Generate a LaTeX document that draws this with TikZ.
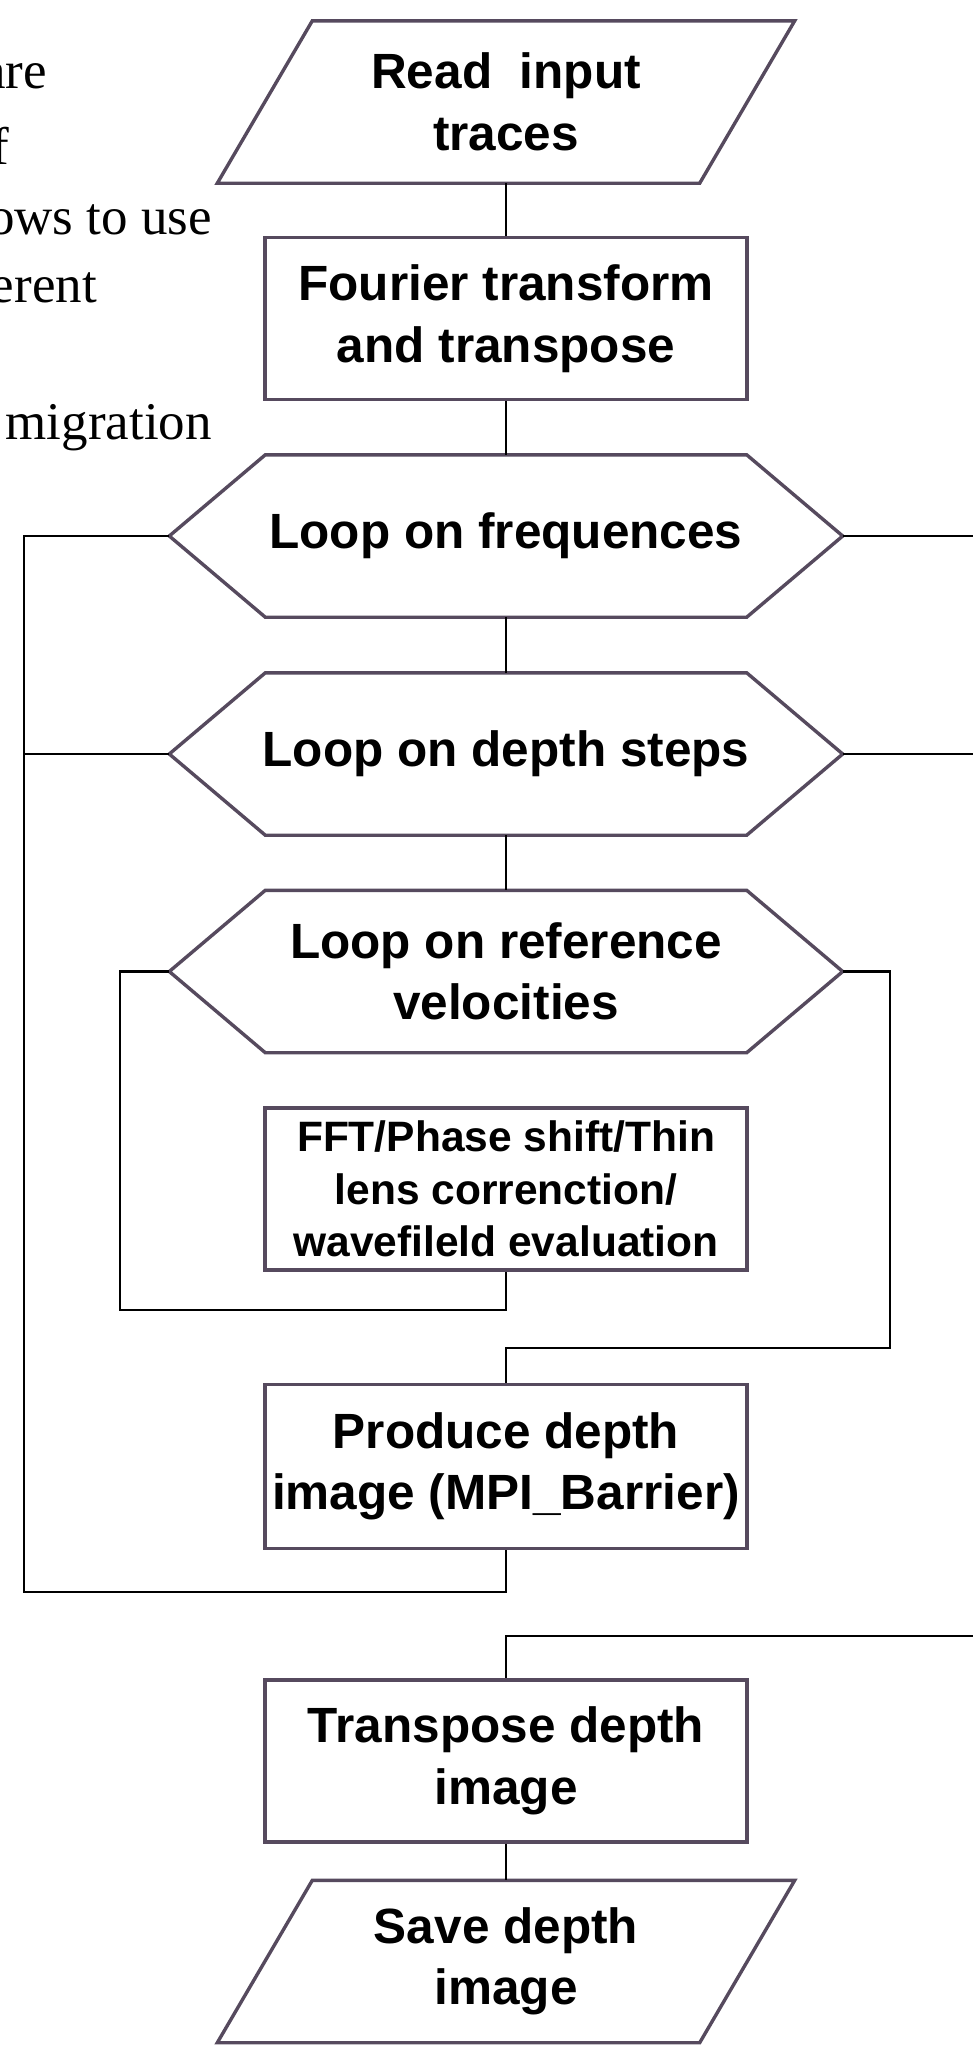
\documentclass[tikz,border=0pt]{standalone}
\usepackage{fontspec}
\setmainfont{Liberation Sans}
\newfontfamily\serifpart{Liberation Serif}
\usetikzlibrary{calc}
\definecolor{boxc}{RGB}{86,74,94}
\newcommand\drawhexa[1]{%
  \draw[outl] (#1.west) -- ([xshift=96pt]#1.north west) -- ([xshift=-96pt]#1.north east)
    -- (#1.east) -- ([xshift=-96pt]#1.south east) -- ([xshift=96pt]#1.south west) -- cycle;}
\newcommand\drawpara[1]{%
  \draw[outl] ([xshift=95pt]#1.north west) -- (#1.north east)
    -- ([xshift=-95pt]#1.south east) -- (#1.south west) -- cycle;}
\begin{document}
\begin{tikzpicture}[x=1pt,y=-1pt,
  outl/.style={draw=boxc, line width=3.4pt, line join=miter},
  conn/.style={draw=black, line width=2.2pt},
  lbl/.style={inner sep=0pt, align=center, font=\bfseries\fontsize{49.5}{61.5}\selectfont},
  box/.style={lbl, draw=boxc, line width=3.4pt, minimum width=482pt, minimum height=162pt},
  smallbox/.style={box, font=\bfseries\fontsize{42.5}{52.3}\selectfont},
  parashape/.style={lbl, minimum width=577pt, minimum height=162pt},
  hexshape/.style={lbl, minimum width=673pt, minimum height=162pt},
  bgtext/.style={inner sep=0pt, anchor=base east, font=\serifpart\fontsize{53}{60}\selectfont}
]
\useasboundingbox (0,0) rectangle (973,2051);
\clip (0,0) rectangle (973,2051);
\fill[white] (0,0) rectangle (973,2051);

% background paragraph fragments
\node[bgtext] (bt1) at (47,88) {are};
\node[bgtext] (bt2) at (9,164) {f};
\node[bgtext] (bt3) at (212,234) {ows to use};
\node[bgtext] (bt4) at (97,302) {erent};
\node[bgtext] (bt5) at (212,439) {migration};

% nodes
\node[parashape] (read) at (506,102) {Read\ \ input\\traces};
\node[box] (fourier) at (506,318.5) {Fourier transform\\and transpose};
\node[hexshape] (freq) at (506,536) {Loop on frequences};
\node[hexshape] (depth) at (506,754) {Loop on depth steps};
\node[hexshape] (refvel) at (506,971.5) {Loop on reference\\velocities};
\node[smallbox] (fft) at (506,1189) {FFT/Phase shift/Thin\\lens correnction/\\wavefileld evaluation};
\node[box, minimum height=164pt] (produce) at (506,1466.5) {Produce depth\\image (MPI\_Barrier)};
\node[box] (transpose) at (506,1761) {Transpose depth\\image};
\node[parashape] (save) at (506,1961.5) {Save depth\\image};

\drawpara{read}
\drawpara{save}
\drawhexa{freq}
\drawhexa{depth}
\drawhexa{refvel}

% coordinates for loop corners and free ends
\coordinate (inL) at (120,1310);
\coordinate (inR) at (890,1348);
\coordinate (outL) at (24,1592);
\coordinate (edge) at (975,1636);

% straight connectors
\draw[conn] (read.south) -- (fourier.north);
\draw[conn] (fourier.south) -- (freq.north);
\draw[conn] (freq.south) -- (depth.north);
\draw[conn] (depth.south) -- (refvel.north);
\draw[conn] (transpose.south) -- (save.north);

% inner loop
\draw[conn] (refvel.west) -| (inL) -- (fft.south |- inL) -- (fft.south);
\draw[conn] (refvel.east) -| (inR) -- (produce.north |- inR) -- (produce.north);

% outer loop
\draw[conn] (freq.west) -| (outL) -- (produce.south |- outL) -- (produce.south);
\draw[conn] (depth.west) -- (depth.west -| outL);

% lines to the right edge
\draw[conn] (freq.east) -- (freq.east -| edge);
\draw[conn] (depth.east) -- (depth.east -| edge);
\draw[conn] (edge) -- (transpose.north |- edge) -- (transpose.north);
\end{tikzpicture}
\end{document}
